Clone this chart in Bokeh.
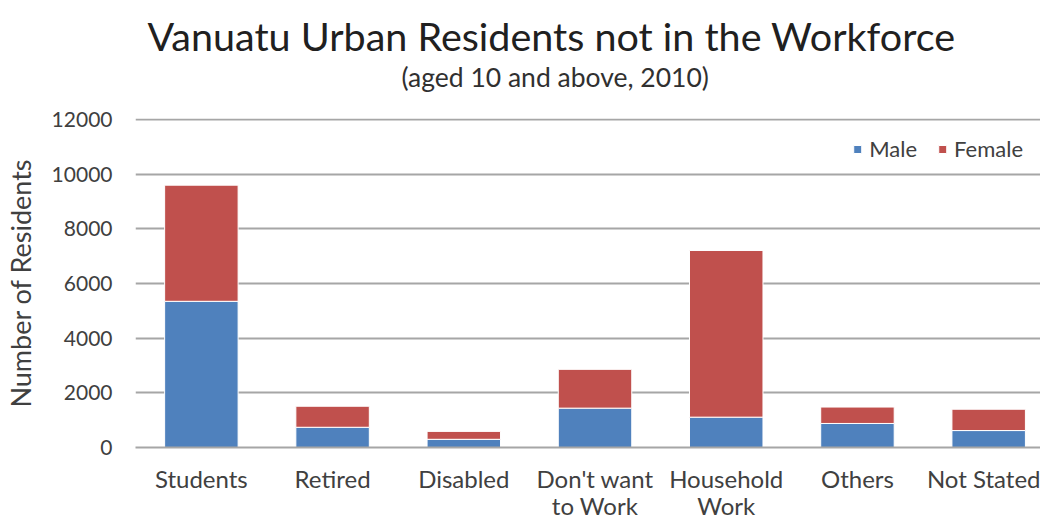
from bokeh.plotting import figure
from bokeh.models import Range1d, FixedTicker, Title, Legend, LegendItem, ColumnDataSource
from bokeh.embed import file_html
from bokeh.resources import INLINE

categories = ["Students", "Retired", "Disabled", "Don't want\nto Work", "Household\nWork", "Others", "Not Stated"]
male = [5350, 740, 300, 1440, 1110, 880, 620]
female = [4250, 770, 290, 1420, 6100, 600, 780]
y_ticks = [0, 2000, 4000, 6000, 8000, 10000, 12000]

FONT = "Lato"
TXT = "#404040"

x = list(range(len(categories)))
top_m = male
top_f = [m + f for m, f in zip(male, female)]
src = ColumnDataSource(dict(x=x, m=top_m, f=top_f, zero=[0] * len(x)))

p = figure(width=1040, height=523, output_backend="svg", toolbar_location=None,
           x_range=Range1d(-0.502, 6.395), y_range=Range1d(0, 12040),
           min_border_left=133, min_border_right=0, min_border_top=118, min_border_bottom=20)
p.outline_line_color = None
p.background_fill_color = "white"

rm = p.vbar(x="x", bottom="zero", top="m", width=0.56, source=src, fill_color="#4F81BD", line_color="white", line_width=1)
rf = p.vbar(x="x", bottom="m", top="f", width=0.56, source=src, fill_color="#C0504D", line_color="white", line_width=1)

p.xaxis.ticker = FixedTicker(ticks=x)
p.xaxis.major_label_overrides = {i: c for i, c in enumerate(categories)}
p.xaxis.major_tick_line_color = None
p.xaxis.major_tick_out = 0
p.xaxis.major_tick_in = 0
p.xaxis.minor_tick_line_color = None
p.xaxis.axis_line_color = "#A6A6A6"
p.xaxis.axis_line_width = 2
p.xaxis.major_label_standoff = 16
p.xaxis.major_label_text_font = FONT
p.xaxis.major_label_text_font_size = "24px"
p.xaxis.major_label_text_line_height = 0.95
p.xaxis.major_label_text_color = TXT

p.yaxis.ticker = FixedTicker(ticks=y_ticks)
p.yaxis.axis_line_color = None
p.yaxis.major_tick_line_color = None
p.yaxis.major_tick_in = 0
p.yaxis.major_tick_out = 0
p.yaxis.minor_tick_line_color = None
p.yaxis.major_label_standoff = 23
p.yaxis.major_label_text_font = FONT
p.yaxis.major_label_text_font_size = "21px"
p.yaxis.major_label_text_color = TXT
p.yaxis.axis_label = "Number of Residents"
p.yaxis.axis_label_text_font = FONT
p.yaxis.axis_label_text_font_size = "27px"
p.yaxis.axis_label_text_font_style = "normal"
p.yaxis.axis_label_text_color = TXT
p.yaxis.axis_label_standoff = 12

p.xgrid.grid_line_color = None
p.ygrid.ticker = FixedTicker(ticks=y_ticks)
p.ygrid.grid_line_color = "#A6A6A6"
p.ygrid.grid_line_width = 2

p.title = None
spacer = Title(text=" ", text_font_size="1px", standoff=23)
sub = Title(text="(aged 10 and above, 2010)", align="left", offset=266, standoff=0,
            text_font=FONT, text_font_size="26.5px", text_font_style="normal", text_color="#303030")
main = Title(text="Vanuatu Urban Residents not in the Workforce", align="left", offset=12, standoff=0,
             text_font=FONT, text_font_size="39.5px", text_font_style="normal", text_color="#202020")
p.add_layout(spacer, "above")
p.add_layout(sub, "above")
p.add_layout(main, "above")

legend = Legend(items=[LegendItem(label="Male", renderers=[rm]), LegendItem(label="Female", renderers=[rf])],
                orientation="horizontal", location="top_right", border_line_color=None,
                background_fill_alpha=0, label_text_font=FONT, label_text_font_size="22px",
                label_text_color=TXT, glyph_width=10, glyph_height=10, spacing=20,
                label_standoff=7, margin=17, padding=4)
p.add_layout(legend)

open("out.html", "w").write(file_html(p, INLINE))
